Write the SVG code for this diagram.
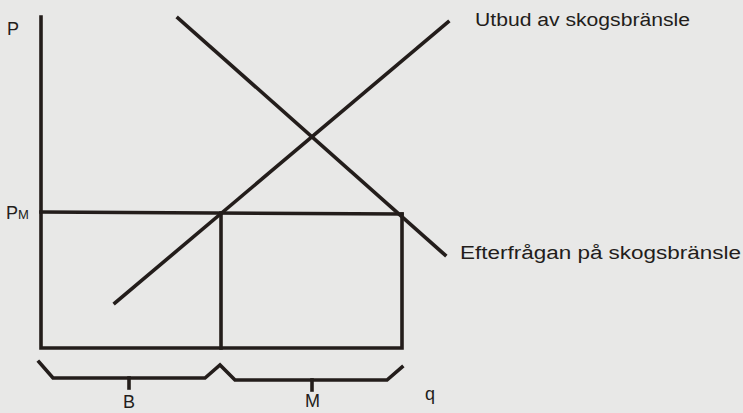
<svg xmlns="http://www.w3.org/2000/svg" width="743" height="413" viewBox="0 0 743 413">
<style>
.ln{stroke:#231d1b;stroke-width:3.6;fill:none;stroke-linecap:square;stroke-linejoin:miter}
.t{font-family:"Liberation Sans","DejaVu Sans",sans-serif;fill:#231d1b;font-size:18px}
</style>
<rect width="743" height="413" fill="#e8e8e7"/>
<g id="connectors">
<path class="ln" d="M41,17 V348 H402 V214"/>
<path class="ln" d="M41,212 L402,214"/>
<path class="ln" d="M221,213 V348"/>
<path class="ln" d="M39,362 L53,378 H205 L220,365 L235,380 H387 L402,367"/>
<path class="ln" d="M129,378 V388"/>
<path class="ln" d="M312,380 V390"/>
</g>
<g id="supply">
<path class="ln" d="M115,303 L448,22"/>
<text class="t" x="475" y="26" textLength="215" lengthAdjust="spacingAndGlyphs">Utbud av skogsbränsle</text>
</g>
<g id="demand">
<path class="ln" d="M178,18 L445,255"/>
<text class="t" x="460" y="259" textLength="281" lengthAdjust="spacingAndGlyphs">Efterfrågan på skogsbränsle</text>
</g>
<g id="labels">
<text class="t" x="7" y="35">P</text>
<text class="t" x="6" y="219">P<tspan font-size="13">M</tspan></text>
<text class="t" x="123" y="408">B</text>
<text class="t" x="305" y="407" font-size="17">M</text>
<text class="t" x="425" y="400">q</text>
</g>
</svg>
